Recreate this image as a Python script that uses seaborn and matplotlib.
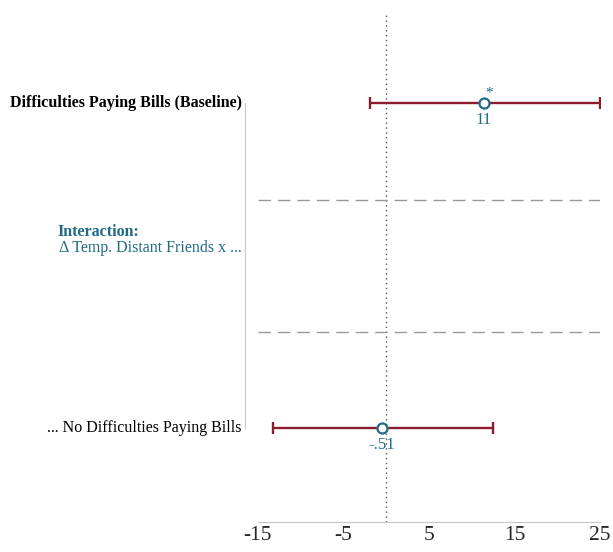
import matplotlib
matplotlib.use("Agg")
import matplotlib.pyplot as plt
import seaborn as sns
import pandas as pd

# data
terms = ["Difficulties Paying Bills (Baseline)", "... No Difficulties Paying Bills"]
row_pos = [1.0, 4.0]
estimates = [11.4, -0.51]
ci_low = [-1.9, -13.3]
ci_high = [25.0, 12.5]
value_labels = ["11", "-.51"]
stars = ["*", ""]
separators = [1.9, 3.12]
xticks = [-15, -5, 5, 15, 25]

teal = "#1f6b85"
red = "#8c1c2c"

sns.set_style("white")
plt.rcParams["font.family"] = ["Liberation Serif", "DejaVu Serif"]

df = pd.DataFrame({"term": terms, "y": row_pos, "est": estimates,
                   "lo": ci_low, "hi": ci_high})

fig = plt.figure(figsize=(6.13, 5.52), dpi=100)
ax = fig.add_axes([258 / 613, 30 / 552, 342 / 613, 522 / 552])

ax.axvline(0, ymax=0.975, color="#555555", linestyle=(0, (1, 2.5)), linewidth=1, zorder=1)
for s in separators:
    ax.axhline(s, color="#999999", linestyle=(0, (9, 5)), linewidth=1, zorder=1)

ax.errorbar(df["est"], df["y"],
            xerr=[df["est"] - df["lo"], df["hi"] - df["est"]],
            fmt="none", ecolor=red, elinewidth=1.7, capsize=4.5, capthick=1.7, zorder=2)
sns.scatterplot(data=df, x="est", y="y", ax=ax, s=52, marker="o",
                facecolor="white", edgecolor=teal, linewidth=1.6, zorder=3)

for x, y, lab, st in zip(estimates, row_pos, value_labels, stars):
    ax.text(x, y + 0.085, lab, color=teal, fontsize=12, ha="center", va="top")
    if st:
        ax.text(x + 0.6, y - 0.03, st, color=teal, fontsize=11, ha="center", va="bottom")

ax.set_xlim(-15, 25)
ax.set_ylim(4.87, 0.05)
ax.set_xticks(xticks)
ax.set_xticklabels([str(t) for t in xticks], fontsize=15.5)
ax.tick_params(axis="x", length=0, pad=3)
ax.set_yticks([])
ax.set_xlabel("")
ax.set_ylabel("")

for side in ["top", "right"]:
    ax.spines[side].set_visible(False)
ax.spines["bottom"].set_color("#c8c8c8")
ax.spines["left"].set_color("#c8c8c8")
ax.spines["left"].set_position(("outward", 9.4))
ax.spines["left"].set_bounds(1.0, 4.0)

# row labels on the left
ytr = ax.get_yaxis_transform()
ax.text(-0.048, 1.0, terms[0], transform=ytr, ha="right",
        va="center", fontsize=11.5, fontweight="bold", color="black")
ax.text(-0.585, 2.27, "Interaction:", transform=ytr,
        ha="left", va="bottom", fontsize=11.5, fontweight="bold", color=teal)
ax.text(-0.048, 2.27, "\u0394 Temp. Distant Friends x ...", transform=ytr,
        ha="right", va="top", fontsize=11.5, color=teal)
ax.text(-0.048, 4.0, terms[1], transform=ytr, ha="right",
        va="center", fontsize=11.5, color="black")

fig.savefig("out.png", dpi=100)
